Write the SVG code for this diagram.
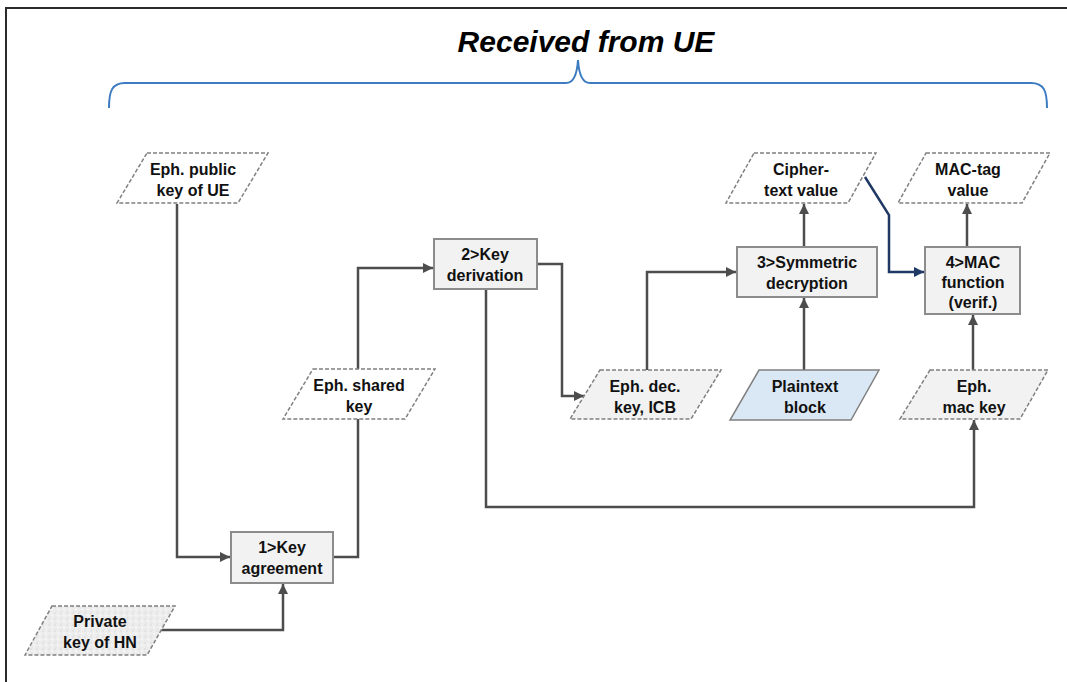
<svg xmlns="http://www.w3.org/2000/svg" width="1067" height="682" viewBox="0 0 1067 682">
<style>
.t{font-family:"Liberation Sans",Arial,sans-serif;font-weight:bold;font-size:16px;fill:#111;text-anchor:middle}
.box{fill:#f2f2f2;stroke:#8c8c8c;stroke-width:2}
.data{fill:#fff;stroke:#808080;stroke-width:1.5;stroke-dasharray:4 2}
.datag{fill:#f2f2f2;stroke:#808080;stroke-width:1.5;stroke-dasharray:4 2}
.con{fill:none;stroke:#4d4d4d;stroke-width:2.5}
.conb{fill:none;stroke:#1f3864;stroke-width:2.5}
</style>
<defs>
<marker id="ah" markerUnits="userSpaceOnUse" markerWidth="10" markerHeight="10" refX="10" refY="5" orient="auto"><path d="M0,0 L10,5 L0,10 z" fill="#4d4d4d"/></marker>
<marker id="ahb" markerUnits="userSpaceOnUse" markerWidth="10" markerHeight="10" refX="10" refY="5" orient="auto"><path d="M0,0 L10,5 L0,10 z" fill="#1f3864"/></marker>
<pattern id="granite" width="6" height="6" patternUnits="userSpaceOnUse">
<rect width="6" height="6" fill="#ededed"/>
<circle cx="1" cy="1" r="0.8" fill="#d6d6d6"/>
<circle cx="4" cy="3.5" r="0.9" fill="#fafafa"/>
<circle cx="2" cy="5" r="0.6" fill="#d9d9d9"/>
</pattern>
</defs>
<rect width="1067" height="682" fill="#fff"/>
<path d="M6,682 V8 H1067" fill="none" stroke="#2b2b2b" stroke-width="2"/>
<g id="title">
<text x="586" y="52" font-family="'Liberation Sans',Arial,sans-serif" font-weight="bold" font-style="italic" font-size="30" text-anchor="middle" fill="#000">Received from UE</text>
<path d="M109,108 C109,91 112,83 125,83 L566,83 C573,83 577,76 578,60 C579,76 583,83 590,83 L1031,83 C1044,83 1047,91 1047,108" fill="none" stroke="#3d7cc0" stroke-width="2"/>
</g>
<g id="connectors">
<path class="con" d="M177,204 V557 H230" marker-end="url(#ah)"/>
<path class="con" d="M161,630 H283 V584" marker-end="url(#ah)"/>
<path class="con" d="M333,557 H358 V419"/>
<path class="con" d="M358,369 V268 H433" marker-end="url(#ah)"/>
<path class="con" d="M537,264 H562 V396 H584" marker-end="url(#ah)"/>
<path class="con" d="M647,370 V272 H736" marker-end="url(#ah)"/>
<path class="con" d="M804,247 V204" marker-end="url(#ah)"/>
<path class="con" d="M804,370 V298" marker-end="url(#ah)"/>
<path class="con" d="M486,289 V507 H974 V420" marker-end="url(#ah)"/>
<path class="con" d="M973,370 V315" marker-end="url(#ah)"/>
<path class="con" d="M967,247 V204" marker-end="url(#ah)"/>
<path class="conb" d="M865,177 L889,215 V272 H924" marker-end="url(#ahb)"/>
</g>
<g id="eph-public">
<polygon class="data" points="147,153 268,153 238,203 117,203"/>
<text class="t" x="193" y="175">Eph. public</text>
<text class="t" x="193" y="196">key of UE</text>
</g>
<g id="key-agreement">
<rect class="box" x="231" y="532" width="102" height="51"/>
<text class="t" x="282" y="553">1&gt;Key</text>
<text class="t" x="282" y="574">agreement</text>
</g>
<g id="private-key">
<polygon points="52,606 175,606 147,655 25,655" fill="url(#granite)" stroke="#808080" stroke-width="1.5" stroke-dasharray="4 2"/>
<text class="t" x="100" y="627">Private</text>
<text class="t" x="100" y="648">key of HN</text>
</g>
<g id="eph-shared">
<polygon class="data" points="313,369 435,369 405,419 283,419"/>
<text class="t" x="359" y="391">Eph. shared</text>
<text class="t" x="359" y="412">key</text>
</g>
<g id="key-derivation">
<rect class="box" x="434" y="239" width="103" height="50"/>
<text class="t" x="485" y="260">2&gt;Key</text>
<text class="t" x="485" y="281">derivation</text>
</g>
<g id="eph-dec">
<polygon class="datag" points="600,370 721,370 691,419 570,419"/>
<text class="t" x="645" y="392">Eph. dec.</text>
<text class="t" x="645" y="413">key, ICB</text>
</g>
<g id="sym-decryption">
<rect class="box" x="737" y="247" width="140" height="50"/>
<text class="t" x="807" y="268">3&gt;Symmetric</text>
<text class="t" x="807" y="289">decryption</text>
</g>
<g id="cipher">
<polygon class="data" points="754,153 876,153 848,203 726,203"/>
<text class="t" x="801" y="175">Cipher-</text>
<text class="t" x="801" y="196">text value</text>
</g>
<g id="plaintext">
<polygon points="759,370 879,370 851,420 730,420" fill="#dae8f5" stroke="#808080" stroke-width="1.5"/>
<text class="t" x="805" y="392">Plaintext</text>
<text class="t" x="805" y="413">block</text>
</g>
<g id="mac-function">
<rect class="box" x="925" y="247" width="95" height="67"/>
<text class="t" x="973" y="268">4&gt;MAC</text>
<text class="t" x="973" y="288">function</text>
<text class="t" x="973" y="308">(verif.)</text>
</g>
<g id="mac-tag">
<polygon class="data" points="926,153 1050,153 1022,203 898,203"/>
<text class="t" x="968" y="175">MAC-tag</text>
<text class="t" x="968" y="196">value</text>
</g>
<g id="eph-mac">
<polygon class="datag" points="930,370 1048,370 1020,419 900,419"/>
<text class="t" x="974" y="392">Eph.</text>
<text class="t" x="974" y="413">mac key</text>
</g>
</svg>
